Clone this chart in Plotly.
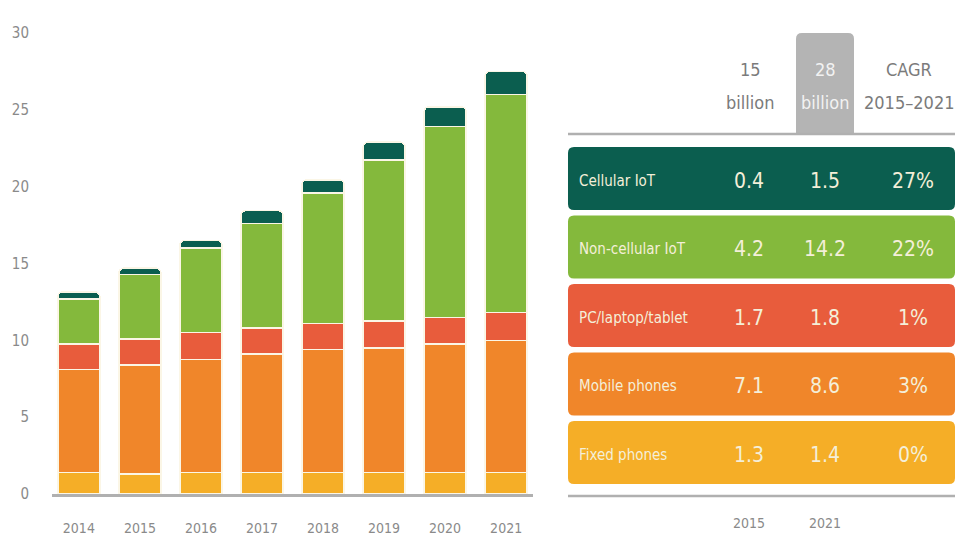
import plotly.graph_objects as go

W, H = 971, 558

# ---- data ----
years = ["2014", "2015", "2016", "2017", "2018", "2019", "2020", "2021"]
fixed_phones = [1.4, 1.3, 1.4, 1.4, 1.4, 1.4, 1.4, 1.4]
mobile_phones = [6.7, 7.1, 7.35, 7.7, 8.0, 8.1, 8.35, 8.6]
pc_laptop_tablet = [1.65, 1.7, 1.75, 1.7, 1.7, 1.75, 1.75, 1.8]
non_cellular_iot = [2.95, 4.2, 5.5, 6.8, 8.5, 10.5, 12.4, 14.2]
cellular_iot = [0.45, 0.4, 0.5, 0.85, 0.85, 1.15, 1.3, 1.5]
y_ticks = [0, 5, 10, 15, 20, 25, 30]

table_categories = ["Cellular IoT", "Non-cellular IoT", "PC/laptop/tablet", "Mobile phones", "Fixed phones"]
table_2015 = ["0.4", "4.2", "1.7", "7.1", "1.3"]
table_2021 = ["1.5", "14.2", "1.8", "8.6", "1.4"]
table_cagr = ["27%", "22%", "1%", "3%", "0%"]
header_2015 = ["15", "billion"]
header_2021 = ["28", "billion"]
header_cagr = ["CAGR", "2015–2021"]
footer_years = ["2015", "2021"]

colors = {
    "Cellular IoT": "#0b5e4f",
    "Non-cellular IoT": "#84b93c",
    "PC/laptop/tablet": "#e85c3c",
    "Mobile phones": "#f0862a",
    "Fixed phones": "#f5ae27",
}

FONT = "DejaVu Sans Condensed, Liberation Sans Narrow, sans-serif"


def px(x):
    return x / W


def py(y):
    return 1 - y / H


def rrect(x0, y0, x1, y1, r, top_only=False):
    # rounded rectangle in pixel coords -> paper path
    def P(x, y):
        return f"{px(x):.5f},{py(y):.5f}"
    if top_only:
        return (f"M {P(x0, y1)} L {P(x0, y0 + r)} Q {P(x0, y0)} {P(x0 + r, y0)} "
                f"L {P(x1 - r, y0)} Q {P(x1, y0)} {P(x1, y0 + r)} L {P(x1, y1)} Z")
    return (f"M {P(x0 + r, y0)} L {P(x1 - r, y0)} Q {P(x1, y0)} {P(x1, y0 + r)} "
            f"L {P(x1, y1 - r)} Q {P(x1, y1)} {P(x1 - r, y1)} L {P(x0 + r, y1)} "
            f"Q {P(x0, y1)} {P(x0, y1 - r)} L {P(x0, y0 + r)} Q {P(x0, y0)} {P(x0 + r, y0)} Z")


fig = go.Figure()
series = [
    ("Fixed phones", fixed_phones),
    ("Mobile phones", mobile_phones),
    ("PC/laptop/tablet", pc_laptop_tablet),
    ("Non-cellular IoT", non_cellular_iot),
    ("Cellular IoT", cellular_iot),
]
for name, vals in series:
    fig.add_trace(go.Bar(
        x=years, y=vals, name=name,
        marker=dict(color=colors[name], line=dict(color="#fbf6e6", width=1.5)),
        hoverinfo="x+y+name",
    ))

shapes = []
annotations = []

# table header
shapes.append(dict(type="path", xref="paper", yref="paper",
                   path=rrect(796, 33, 854, 133, 6, top_only=True),
                   fillcolor="#b4b4b4", line=dict(width=0), layer="below"))
shapes.append(dict(type="line", xref="paper", yref="paper",
                   x0=px(568), x1=px(955), y0=py(134), y1=py(134),
                   line=dict(color="#b0b0b0", width=2.5)))
shapes.append(dict(type="line", xref="paper", yref="paper",
                   x0=px(568), x1=px(955), y0=py(496), y1=py(496),
                   line=dict(color="#b0b0b0", width=2.5)))

for lines, xc, col in [(header_2015, 750, "#7b7b7b"), (header_2021, 825, "#f2f2f2"), (header_cagr, 909, "#7b7b7b")]:
    for txt, yc in zip(lines, [69, 102]):
        annotations.append(dict(xref="paper", yref="paper", x=px(xc), y=py(yc), text=txt,
                                showarrow=False, xanchor="center", yanchor="middle",
                                font=dict(family=FONT, size=18, color=col), align="center"))

row_top0, row_step, row_h = 147, 68.5, 63
for i, cat in enumerate(table_categories):
    y0 = row_top0 + i * row_step
    y1 = y0 + row_h
    shapes.append(dict(type="path", xref="paper", yref="paper",
                       path=rrect(568, y0, 955, y1, 6),
                       fillcolor=colors[cat], line=dict(width=0)))
    yc = py((y0 + y1) / 2 + 2)
    tc = "#f4efd9"
    annotations.append(dict(xref="paper", yref="paper", x=px(577), y=yc, text=cat,
                            showarrow=False, xanchor="left", yanchor="middle",
                            font=dict(family=FONT, size=15, color=tc)))
    for txt, xc in [(table_2015[i], 749), (table_2021[i], 825), (table_cagr[i], 913)]:
        annotations.append(dict(xref="paper", yref="paper", x=px(xc), y=yc, text=txt,
                                showarrow=False, xanchor="center", yanchor="middle",
                                font=dict(family=FONT, size=21, color=tc)))

for txt, xc in zip(footer_years, [749, 825]):
    annotations.append(dict(xref="paper", yref="paper", x=px(xc), y=py(523), text=txt,
                            showarrow=False, xanchor="center", yanchor="middle",
                            font=dict(family=FONT, size=14, color="#8a8a8a")))

fig.update_layout(
    width=W, height=H,
    margin=dict(l=0, r=0, t=0, b=0),
    paper_bgcolor="white", plot_bgcolor="white",
    barmode="stack", bargap=0.31, barcornerradius=5,
    showlegend=False,
    font=dict(family=FONT, color="#8a8a8a"),
    xaxis=dict(domain=[px(52), px(533)], range=[-0.44, 7.44], type="category",
               showline=True, linecolor="#b0b0b0", linewidth=2.5,
               ticks="", tickfont=dict(family=FONT, size=14, color="#8a8a8a"),
               ticklabelstandoff=19, showgrid=False, automargin=False, fixedrange=True),
    yaxis=dict(domain=[py(494), py(33)], range=[0, 30], tickvals=y_ticks,
               showgrid=False, zeroline=False, showline=False, ticks="",
               tickfont=dict(family=FONT, size=15, color="#8a8a8a"),
               ticklabelstandoff=22, automargin=False, fixedrange=True),
    shapes=shapes, annotations=annotations,
)

fig.write_html("out.html")
